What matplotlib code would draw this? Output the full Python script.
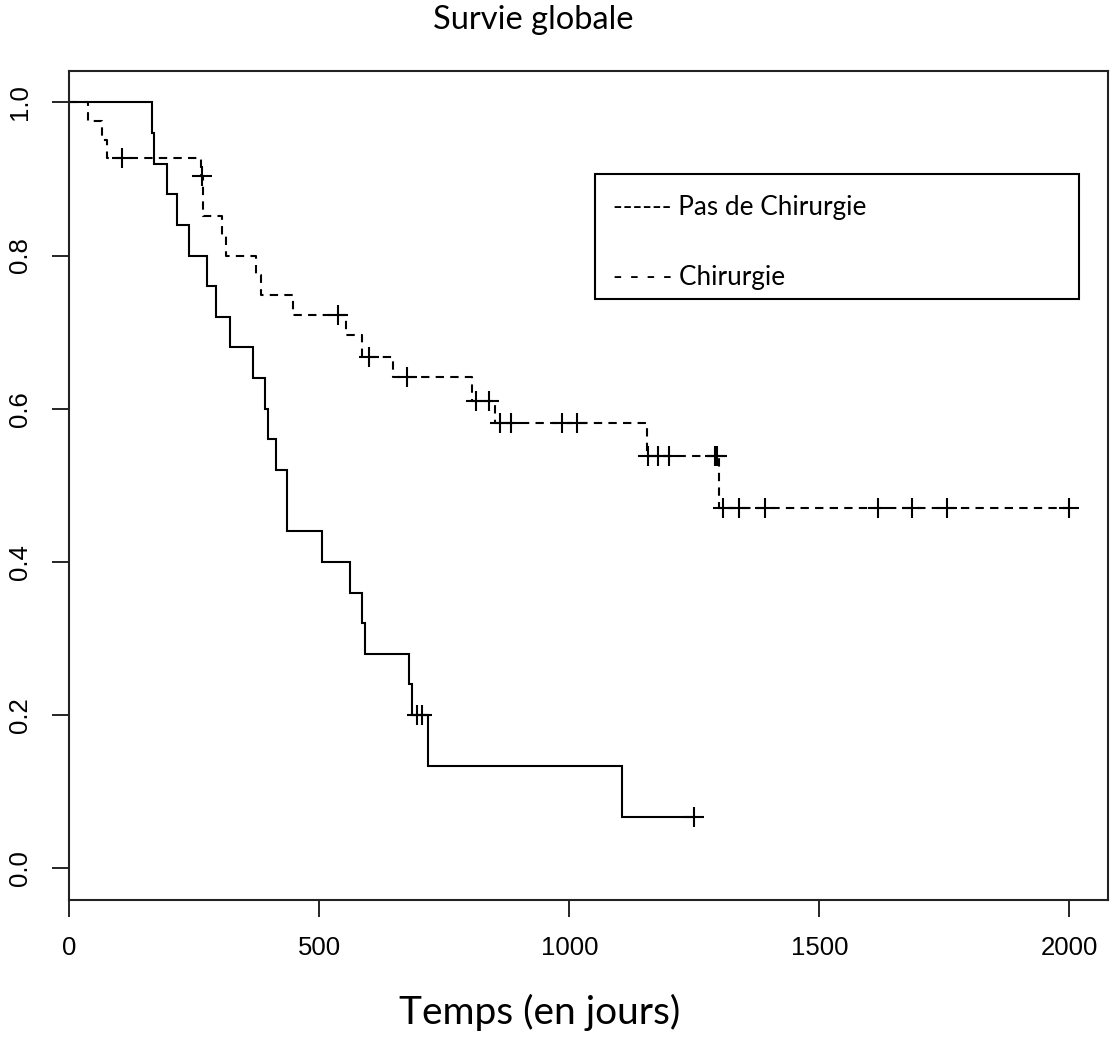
import matplotlib
matplotlib.use("Agg")
import matplotlib.pyplot as plt
from matplotlib.patches import Rectangle

# ---- data ----
# "Pas de Chirurgie" (solid curve)
solid_times = [0, 166, 170, 196, 215, 240, 275, 293, 321, 368, 391, 397, 413, 436,
               505, 562, 585, 592, 680, 685, 718, 1105]
solid_surv = [1.0, 0.96, 0.92, 0.88, 0.84, 0.80, 0.76, 0.72, 0.68, 0.64, 0.60, 0.56, 0.52, 0.44,
              0.40, 0.36, 0.32, 0.28, 0.24, 0.20, 0.1333, 0.0667]
solid_cens_t = [695, 705, 1250]
solid_cens_s = [0.20, 0.20, 0.0667]

# "Chirurgie" (dashed curve)
dash_times = [0, 37, 65, 75, 263, 268, 305, 313, 373, 383, 448, 553, 586, 647, 805, 851, 1155, 1300]
dash_surv = [1.0, 0.9756, 0.951, 0.927, 0.904, 0.851, 0.825, 0.799, 0.774, 0.748, 0.722,
             0.696, 0.668, 0.641, 0.610, 0.581, 0.538, 0.471]
dash_cens_t = [105, 265, 538, 600, 675, 813, 840, 861, 883, 985, 1015, 1158, 1177, 1199,
               1291, 1296, 1308, 1340, 1391, 1617, 1685, 1756, 2000]
dash_cens_s = [0.927, 0.904, 0.722, 0.668, 0.641, 0.610, 0.610, 0.581, 0.581, 0.581, 0.581,
               0.538, 0.538, 0.538, 0.538, 0.538, 0.471, 0.471, 0.471, 0.471, 0.471, 0.471, 0.471]

x_ticks = [0, 500, 1000, 1500, 2000]
y_ticks = [0.0, 0.2, 0.4, 0.6, 0.8, 1.0]

title = "Survie globale"
xlabel = "Temps (en jours)"
legend_lines = ["------ Pas de Chirurgie", "- - - - Chirurgie"]

W, H = 1110, 1039
fig = plt.figure(figsize=(W / 100, H / 100), dpi=100)
ax = fig.add_axes([69.3 / W, 1 - 900 / H, (1108 - 69.3) / W, (900 - 70.7) / H])

lw = 1.5
# solid curve, extended to last censoring time
st = solid_times + [max(solid_cens_t)]
ss = solid_surv + [solid_surv[-1]]
ax.step(st, ss, where="post", color="black", lw=lw, solid_joinstyle="miter")
ax.plot(solid_cens_t, solid_cens_s, linestyle="none", marker="+", markersize=15,
        markeredgewidth=1.5, color="black")

dt = dash_times + [max(dash_cens_t)]
ds = dash_surv + [dash_surv[-1]]
ax.step(dt, ds, where="post", color="black", lw=lw, linestyle=(0, (4, 3)))
ax.plot(dash_cens_t, dash_cens_s, linestyle="none", marker="+", markersize=15,
        markeredgewidth=1.5, color="black")

ax.set_xlim(0, 2077)
ax.set_ylim(-0.0414, 1.0413)
ax.set_xticks(x_ticks)
ax.set_yticks(y_ticks)
ax.set_xticklabels([str(v) for v in x_ticks], fontfamily="Liberation Sans", fontsize=18.5)
ax.set_yticklabels([f"{v:.1f}" for v in y_ticks], fontfamily="Liberation Sans", fontsize=18.5,
                   rotation=90, va="center")
ax.tick_params(axis="both", direction="out", length=12, width=1.2, color="black")
ax.tick_params(axis="x", pad=14)
ax.tick_params(axis="y", pad=15)
for sp in ax.spines.values():
    sp.set_linewidth(1.5)
    sp.set_color("#222222")

fig.text(533 / W, 1 - 20 / H, title, ha="center", va="center", fontfamily="Lato", fontsize=23.5)
fig.text(540 / W, 1 - 1012 / H, xlabel, ha="center", va="center", fontfamily="Lato", fontsize=28)

# text legend in a box
fig.add_artist(Rectangle((595 / W, 1 - 299 / H), (1079 - 595) / W, (299 - 174) / H,
                         transform=fig.transFigure, fill=False, edgecolor="black", lw=1.5))
fig.text(613 / W, 1 - 207 / H, legend_lines[0], ha="left", va="center", fontfamily="Lato", fontsize=18.8)
fig.text(613 / W, 1 - 277 / H, legend_lines[1], ha="left", va="center", fontfamily="Lato", fontsize=18.8)

fig.savefig("out.png", dpi=100, facecolor="white")
